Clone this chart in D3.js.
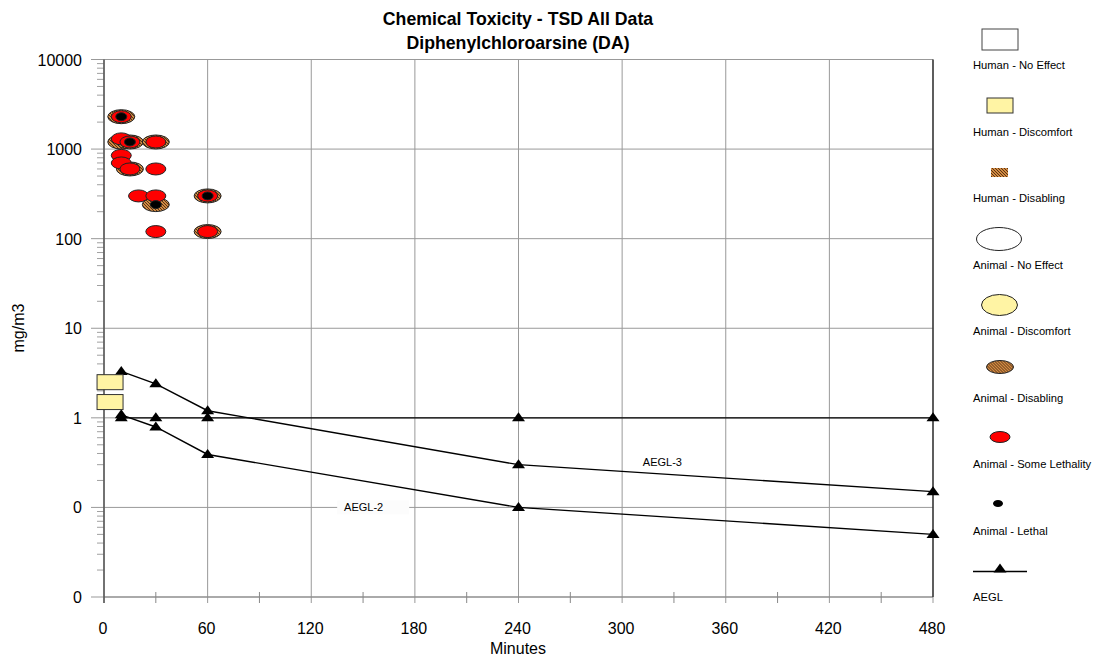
<!DOCTYPE html>
<html>
<head>
<meta charset="utf-8">
<script src="https://cdn.jsdelivr.net/npm/d3@7"></script>
<style>
  body { margin: 0; background: #fff; }
  text { font-family: "Liberation Sans", Arial, sans-serif; }
</style>
</head>
<body>
<script>
// chart data
var yTickValues = [10000, 1000, 100, 10, 1, 0.1, 0.01];
var yTickLabels = ["10000", "1000", "100", "10", "1", "0", "0"];
var xTickValues = [0, 60, 120, 180, 240, 300, 360, 420, 480];

var humanDiscomfort = [[3.5, 2.5], [3.5, 1.5]];
var animalDisabling = [[10, 2300], [10, 1200], [15, 1200], [30, 1200], [15, 600], [30, 240], [60, 300], [60, 120]];
var animalSomeLethality = [[10, 2300], [10, 1300], [15, 1200], [30, 1200], [10, 850], [10, 700], [15, 600], [30, 600],
    [20, 300], [30, 300], [60, 300], [30, 120], [60, 120]];
var animalLethal = [[10, 2300], [15, 1200], [30, 240], [60, 300]];

var aeglTimes = [10, 30, 60, 240, 480];
var aegl1 = [1, 1, 1, 1, 1];
var aegl2 = [1.08, 0.79, 0.39, 0.1, 0.05];
var aegl3 = [3.3, 2.4, 1.2, 0.3, 0.15];

var legendNames = ["Human - No Effect", "Human - Discomfort", "Human - Disabling", "Animal - No Effect",
    "Animal - Discomfort", "Animal - Disabling", "Animal - Some Lethality", "Animal - Lethal", "AEGL"];

window.onload = function(){

    var w = 1097, h = 663;
    var left = 104, right = 933, top = 59.5, bottom = 597;
    var yellow = "#fff4a4";

    var svg = d3.select("body")
        .append("svg")
        .attr("width", w)
        .attr("height", h);

    // hatch for "disabling"
    var pat = svg.append("defs").append("pattern")
        .attr("id", "hatch")
        .attr("patternUnits", "userSpaceOnUse")
        .attr("width", 3).attr("height", 3);
    pat.append("rect").attr("width", 3).attr("height", 3).attr("fill", "#d28a42");
    pat.append("path").attr("d", "M-1,-1 L4,4 M-1,2 L1,4 M2,-1 L4,1")
        .attr("stroke", "#4a2a10").attr("stroke-width", 0.9);

    var x = d3.scaleLinear().domain([0, 480]).range([left, right]);
    var y = d3.scaleLog().domain([0.01, 10000]).range([bottom, top]);

    // minor y ticks, left of the axis
    var minor = [];
    for (var k = -2; k < 4; k++) {
        for (var m = 2; m < 10; m++) minor.push(m * Math.pow(10, k));
    }
    svg.append("g").selectAll("line").data(minor).join("line")
        .attr("x1", left - 7).attr("x2", left)
        .attr("y1", function(d){ return y(d); }).attr("y2", function(d){ return y(d); })
        .attr("stroke", "#a0a0a0");

    // horizontal grid
    svg.append("g").selectAll("line").data(yTickValues).join("line")
        .attr("x1", left - 13).attr("x2", right)
        .attr("y1", function(d){ return y(d); }).attr("y2", function(d){ return y(d); })
        .attr("stroke", "#999");

    // vertical grid + minor x ticks
    svg.append("g").selectAll("line").data(xTickValues).join("line")
        .attr("x1", function(d){ return x(d); }).attr("x2", function(d){ return x(d); })
        .attr("y1", top).attr("y2", bottom + 6)
        .attr("stroke", "#999");
    svg.append("g").selectAll("line").data(d3.range(30, 480, 60)).join("line")
        .attr("x1", function(d){ return x(d); }).attr("x2", function(d){ return x(d); })
        .attr("y1", bottom - 5).attr("y2", bottom + 6)
        .attr("stroke", "#888");

    // axis lines
    svg.append("line").attr("x1", left).attr("x2", right).attr("y1", bottom).attr("y2", bottom)
        .attr("stroke", "#888").attr("stroke-width", 1.2);
    svg.append("line").attr("x1", left).attr("x2", left).attr("y1", top).attr("y2", bottom + 6)
        .attr("stroke", "#555").attr("stroke-width", 1.5);
    svg.append("line").attr("x1", right).attr("x2", right).attr("y1", top).attr("y2", bottom)
        .attr("stroke", "#222").attr("stroke-width", 1.3);

    // tick labels
    svg.append("g").selectAll("text").data(yTickValues).join("text")
        .attr("x", 82).attr("y", function(d){ return y(d) + 6; })
        .attr("text-anchor", "end").attr("font-size", 16)
        .text(function(d, i){ return yTickLabels[i]; });
    svg.append("g").selectAll("text").data(xTickValues).join("text")
        .attr("x", function(d){ return x(d) - 1; }).attr("y", 634)
        .attr("text-anchor", "middle").attr("font-size", 16)
        .text(function(d){ return d; });

    // titles
    svg.append("text").attr("x", 518).attr("y", 25).attr("text-anchor", "middle")
        .attr("font-size", 17.7).attr("font-weight", "bold").text("Chemical Toxicity - TSD All Data");
    svg.append("text").attr("x", 518).attr("y", 49).attr("text-anchor", "middle")
        .attr("font-size", 17.7).attr("font-weight", "bold").text("Diphenylchloroarsine (DA)");
    svg.append("text").attr("x", 518).attr("y", 654).attr("text-anchor", "middle")
        .attr("font-size", 16).text("Minutes");
    svg.append("text").attr("transform", "translate(24,328) rotate(-90)").attr("text-anchor", "middle")
        .attr("font-size", 16).text("mg/m3");

    // AEGL lines
    var line = d3.line()
        .x(function(d, i){ return x(aeglTimes[i]); })
        .y(function(d){ return y(d); });
    var tri = "M0,-5.5 L6.5,3.5 L-6.5,3.5 Z";

    [aegl1, aegl2, aegl3].forEach(function(series){
        svg.append("path").datum(series)
            .attr("d", line).attr("fill", "none")
            .attr("stroke", "#000").attr("stroke-width", 1.4);
        svg.append("g").selectAll("path").data(series).join("path")
            .attr("d", tri)
            .attr("transform", function(d, i){ return "translate(" + x(aeglTimes[i]) + "," + y(d) + ")"; })
            .attr("fill", "#000");
    });

    // AEGL labels
    svg.append("text").attr("x", x(312)).attr("y", y(0.32) + 4)
        .attr("font-size", 11).text("AEGL-3");
    svg.append("rect").attr("x", x(135)).attr("y", y(0.1) - 7).attr("width", 72).attr("height", 14)
        .attr("fill", "#fcfcfc");
    svg.append("text").attr("x", x(139)).attr("y", y(0.1) + 4)
        .attr("font-size", 11).text("AEGL-2");

    // human discomfort boxes
    svg.append("g").selectAll("rect").data(humanDiscomfort).join("rect")
        .attr("x", function(d){ return x(d[0]) - 13; })
        .attr("y", function(d){ return y(d[1]) - 7.5; })
        .attr("width", 26).attr("height", 15)
        .attr("fill", yellow).attr("stroke", "#333");

    // animal ellipses
    function ellipses(data, rx, ry, fill) {
        svg.append("g").selectAll("ellipse").data(data).join("ellipse")
            .attr("cx", function(d){ return x(d[0]); })
            .attr("cy", function(d){ return y(d[1]); })
            .attr("rx", rx).attr("ry", ry)
            .attr("fill", fill).attr("stroke", "#222").attr("stroke-width", 1);
    }
    ellipses(animalDisabling, 13.5, 7, "url(#hatch)");
    ellipses(animalSomeLethality, 10, 6, "#ff0000");
    ellipses(animalLethal, 5.5, 4, "#000");

    // legend
    var lx = 1000;
    var legend = svg.append("g").selectAll("g").data(legendNames).join("g")
        .attr("transform", function(d, i){ return "translate(0," + (66.5 * i) + ")"; });
    legend.append("text").attr("x", 973).attr("y", 69)
        .attr("font-size", 11.2).text(function(d){ return d; });

    var lg = legend.nodes().map(function(n){ return d3.select(n); });
    lg[0].append("rect").attr("x", 982).attr("y", 29).attr("width", 36).attr("height", 21)
        .attr("fill", "#fff").attr("stroke", "#444");
    lg[1].append("rect").attr("x", 987).attr("y", 98 - 66.5).attr("width", 26).attr("height", 15)
        .attr("fill", yellow).attr("stroke", "#333");
    lg[2].append("rect").attr("x", 991).attr("y", 168 - 133).attr("width", 17).attr("height", 9)
        .attr("fill", "url(#hatch)");
    lg[3].append("ellipse").attr("cx", 999).attr("cy", 39.5).attr("rx", 22.5).attr("ry", 11.5)
        .attr("fill", "#fff").attr("stroke", "#222");
    lg[4].append("ellipse").attr("cx", 999.5).attr("cy", 39).attr("rx", 18).attr("ry", 10.5)
        .attr("fill", yellow).attr("stroke", "#222");
    lg[5].append("ellipse").attr("cx", lx).attr("cy", 34.5).attr("rx", 13.5).attr("ry", 6.5)
        .attr("fill", "url(#hatch)").attr("stroke", "#222");
    lg[6].append("ellipse").attr("cx", lx).attr("cy", 38).attr("rx", 10).attr("ry", 5.5)
        .attr("fill", "#ff0000").attr("stroke", "#222");
    lg[7].append("ellipse").attr("cx", 998).attr("cy", 38).attr("rx", 5).attr("ry", 3.5)
        .attr("fill", "#000");
    lg[8].append("line").attr("x1", 973).attr("x2", 1027).attr("y1", 39.5).attr("y2", 39.5)
        .attr("stroke", "#000").attr("stroke-width", 1.4);
    lg[8].append("path").attr("d", tri).attr("transform", "translate(" + lx + ",37)").attr("fill", "#000");
};
</script>
</body>
</html>
